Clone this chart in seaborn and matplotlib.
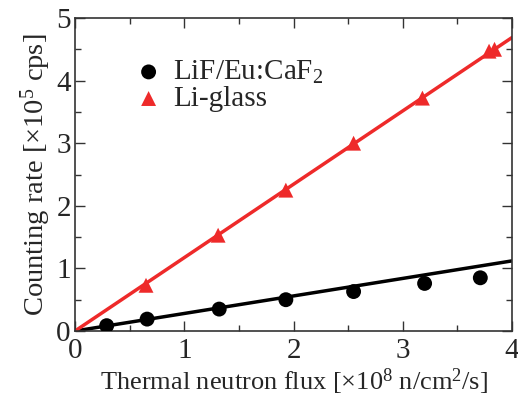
import matplotlib
matplotlib.use("Agg")
import matplotlib.pyplot as plt
import seaborn as sns
import numpy as np
import pandas as pd
from matplotlib.ticker import MultipleLocator

sns.set_theme(style="ticks")
plt.rcParams['font.family'] = ['Liberation Serif', 'DejaVu Serif']
plt.rcParams['mathtext.fontset'] = 'custom'
plt.rcParams['mathtext.rm'] = 'Liberation Serif'
plt.rcParams['mathtext.it'] = 'Liberation Serif:italic'

# Data
lif_flux = [0.29, 0.66, 1.32, 1.93, 2.55, 3.20, 3.71]
lif_rate = [0.085, 0.19, 0.35, 0.50, 0.63, 0.76, 0.85]
glass_flux = [0.65, 1.31, 1.93, 2.55, 3.18, 3.79, 3.84]
glass_rate = [0.73, 1.53, 2.25, 3.00, 3.72, 4.47, 4.50]
fit_x = [0.0, 4.0]
lif_slope = 0.28
glass_slope = 1.172

red = "#ee2a2a"

fig = plt.figure(figsize=(5.18, 4.01), dpi=100)
ax = fig.add_axes([75/518, 1 - 331/401, 437/518, 313/401])

df_lif = pd.DataFrame({"x": lif_flux, "y": lif_rate})
df_gl = pd.DataFrame({"x": glass_flux, "y": glass_rate})
fx = np.array(fit_x)
df_fit_lif = pd.DataFrame({"x": fx, "y": lif_slope * fx})
df_fit_gl = pd.DataFrame({"x": fx, "y": glass_slope * fx})

sns.lineplot(data=df_fit_lif, x="x", y="y", ax=ax, color="black", lw=2.5, zorder=2)
sns.lineplot(data=df_fit_gl, x="x", y="y", ax=ax, color=red, lw=2.5, zorder=2)
sns.scatterplot(data=df_lif, x="x", y="y", ax=ax, color="black", s=115, marker="o",
                edgecolor="none", zorder=3, label=r"LiF/Eu:CaF$_2$")
sns.scatterplot(data=df_gl, x="x", y="y", ax=ax, color=red, s=115, marker="^",
                edgecolor="none", zorder=3, label="Li-glass")

ax.set_xlim(0, 4)
ax.set_ylim(0, 5)
ax.xaxis.set_major_locator(MultipleLocator(1))
ax.xaxis.set_minor_locator(MultipleLocator(0.5))
ax.yaxis.set_major_locator(MultipleLocator(1))
ax.yaxis.set_minor_locator(MultipleLocator(0.5))
ax.tick_params(which="both", direction="in", top=True, right=True, labelsize=21, width=1.0, color="#333333")
ax.tick_params(which="major", length=7)
ax.tick_params(which="minor", length=4)
ax.tick_params(axis="x", pad=5)
ax.tick_params(axis="y", pad=3)
for s in ax.spines.values():
    s.set_linewidth(1.2)
    s.set_color("#333333")

ax.set_xlabel(r"Thermal neutron flux [$\times$10$^8$ n/cm$^2$/s]", fontsize=19, labelpad=2)
ax.set_ylabel(r"Counting rate [$\times$10$^5$ cps]", fontsize=20.5, labelpad=2)

leg = ax.legend(loc="upper left", bbox_to_anchor=(0.095, 0.917), frameon=False, fontsize=21,
                handletextpad=0.25, labelspacing=0.0, borderpad=0, handlelength=1.2)

fig.savefig("out.png", dpi=100)
